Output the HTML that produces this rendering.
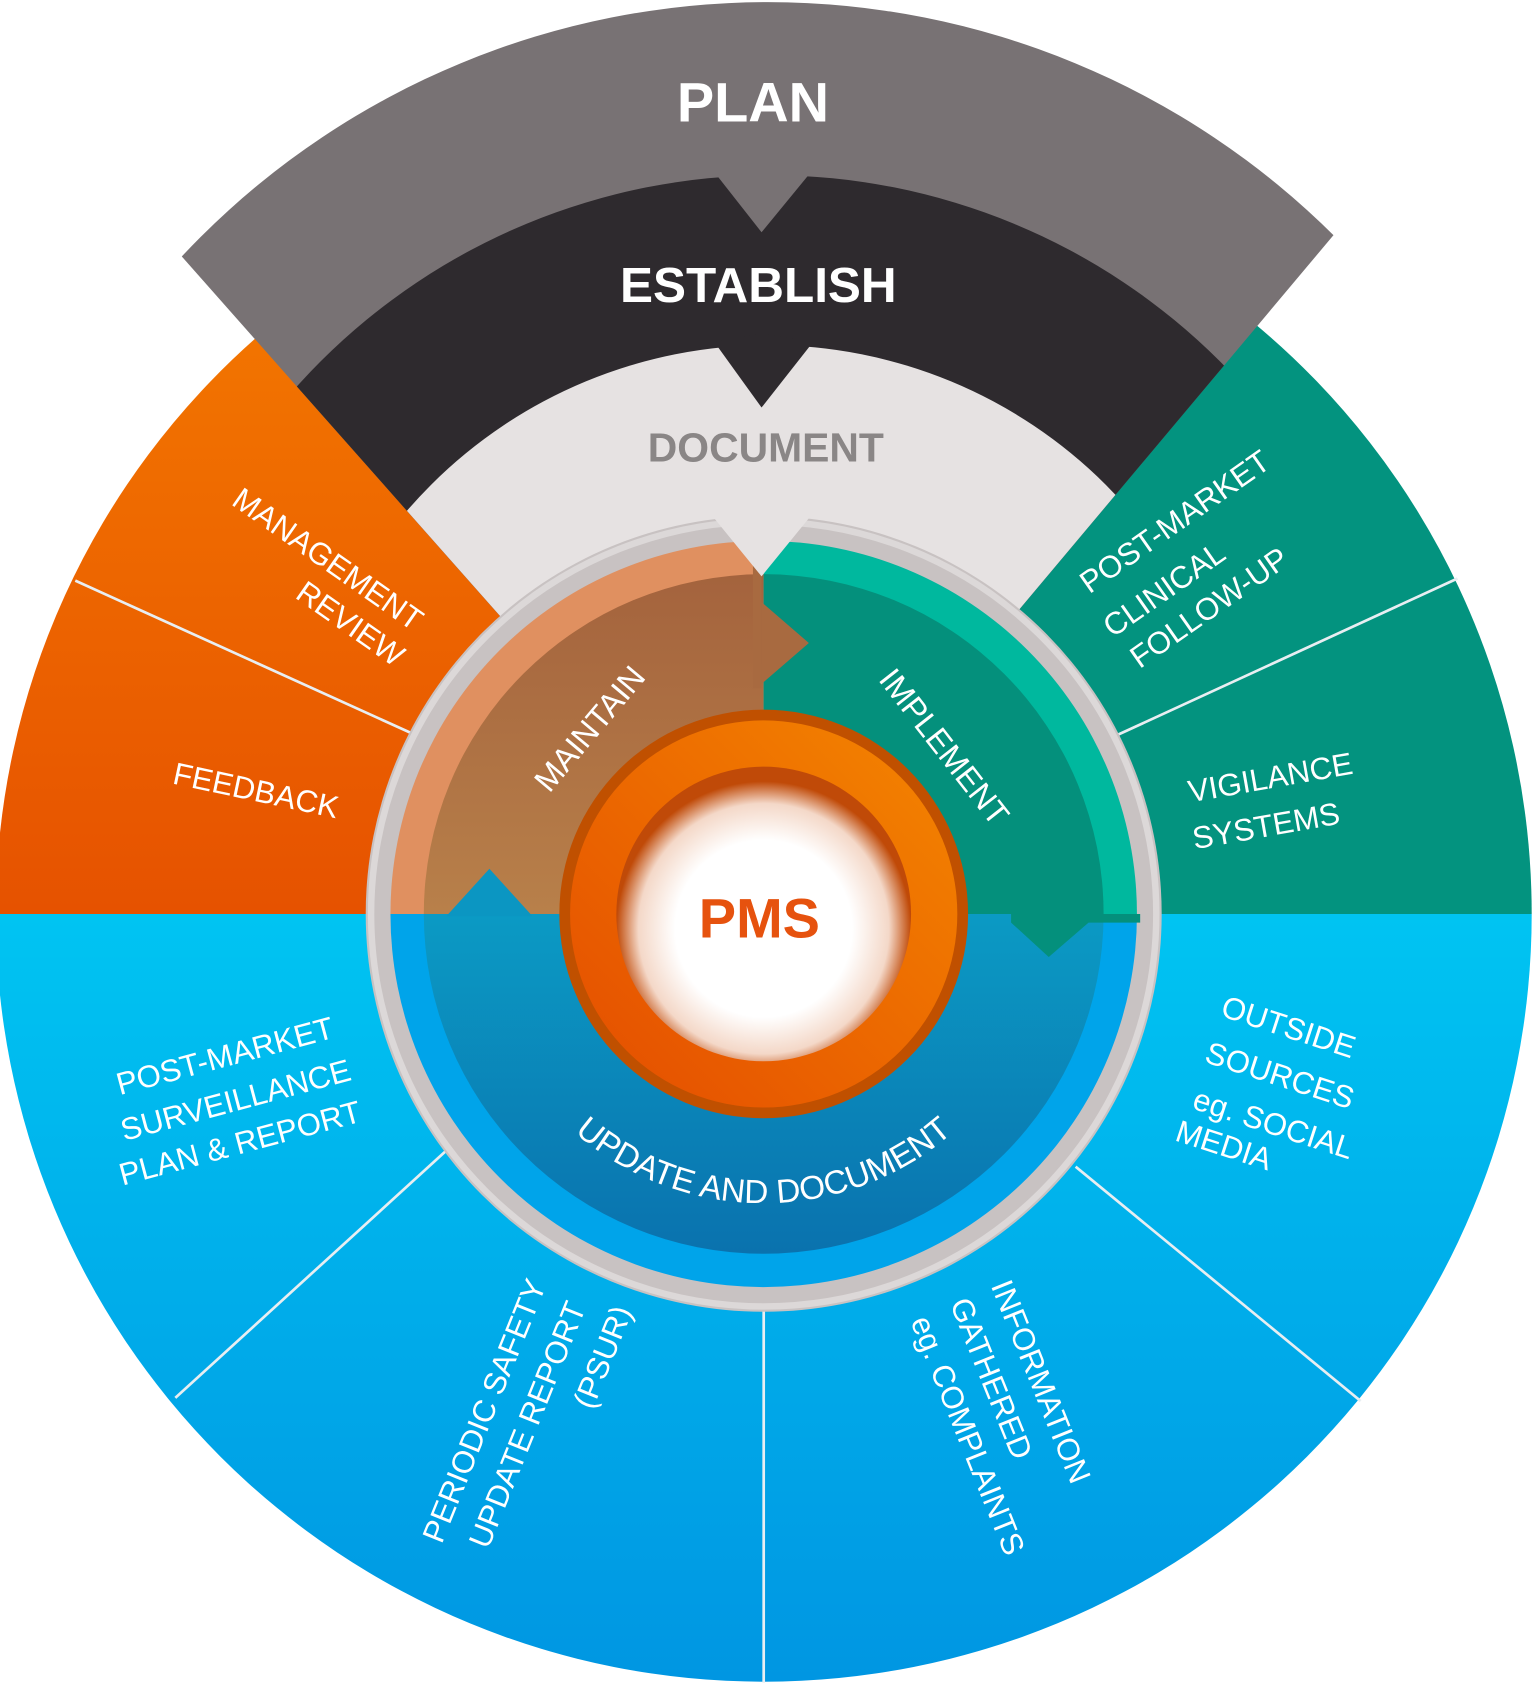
<!DOCTYPE html>
<html><head><meta charset="utf-8"><style>
html,body{margin:0;padding:0;background:#fff;}
svg{display:block;}
text{font-family:"Liberation Sans",sans-serif;}
</style></head><body>
<svg id="chart" width="1536" height="1686" viewBox="0 0 1428 1568" preserveAspectRatio="none" xmlns="http://www.w3.org/2000/svg">
<defs>
<linearGradient id="gBlue" x1="0" y1="0" x2="0" y2="1"><stop offset="0" stop-color="#00c4f2"/><stop offset="1" stop-color="#0096e2"/></linearGradient>
<linearGradient id="gOrange" x1="0" y1="0" x2="0" y2="1"><stop offset="0" stop-color="#f27400"/><stop offset="1" stop-color="#e65200"/></linearGradient>
<linearGradient id="gBrown" x1="0" y1="0" x2="0" y2="1"><stop offset="0" stop-color="#a4633d"/><stop offset="1" stop-color="#b8804a"/></linearGradient>
<linearGradient id="gInnerBlue" x1="0" y1="0" x2="0" y2="1"><stop offset="0" stop-color="#0b9ac4"/><stop offset="1" stop-color="#0a72ae"/></linearGradient>
<linearGradient id="gRing" x1="1" y1="0" x2="0" y2="1"><stop offset="0" stop-color="#f48600"/><stop offset="1" stop-color="#e44c00"/></linearGradient>
<radialGradient id="gWhite" cx="0.5" cy="0.55" r="0.5"><stop offset="0.6" stop-color="#ffffff"/><stop offset="0.85" stop-color="#f4d8c8"/><stop offset="1" stop-color="#c04a08"/></radialGradient>
<clipPath id="planClip"><path id="planClipPath" d=""/></clipPath>
<path id="arcText" d="M 520 1040 A 268 268 0 0 0 900 1040"/>
</defs>
<g id="layer"></g>
</svg>
<script>
const CX=710, CY=850;
const svg=document.getElementById('layer');
const NS='http://www.w3.org/2000/svg';
function pt(r,a){const t=a*Math.PI/180;return [CX+r*Math.cos(t),CY-r*Math.sin(t)];}
function sector(r0,r1,a0,a1){
  const p1=pt(r1,a0),p2=pt(r1,a1);const large=(a1-a0)>180?1:0;
  let d=`M${p1[0]} ${p1[1]} A${r1} ${r1} 0 ${large} 0 ${p2[0]} ${p2[1]}`;
  if(r0>0){const p3=pt(r0,a1),p4=pt(r0,a0);d+=` L${p3[0]} ${p3[1]} A${r0} ${r0} 0 ${large} 1 ${p4[0]} ${p4[1]} Z`;}
  else d+=` L${CX} ${CY} Z`;
  return d;}
function circle3(a,b,c){
  const ax=a[0],ay=a[1],bx=b[0],by=b[1],cx=c[0],cy=c[1];
  const d=2*(ax*(by-cy)+bx*(cy-ay)+cx*(ay-by));
  const ux=((ax*ax+ay*ay)*(by-cy)+(bx*bx+by*by)*(cy-ay)+(cx*cx+cy*cy)*(ay-by))/d;
  const uy=((ax*ax+ay*ay)*(cx-bx)+(bx*bx+by*by)*(ax-cx)+(cx*cx+cy*cy)*(bx-ax))/d;
  return {cx:ux,cy:uy,r:Math.hypot(ax-ux,ay-uy)};}
function add(tag,attrs,name,parent){const e=document.createElementNS(NS,tag);for(const k in attrs)e.setAttribute(k,attrs[k]);
  
  
  (parent||svg).appendChild(e);return e;}

document.getElementById('planClipPath').setAttribute('d',sector(0,1000,50,131.5));

add('path',{d:sector(0,714,180,360),fill:'url(#gBlue)'},'monitor-sector');
add('path',{d:sector(0,714,131,180),fill:'url(#gOrange)'},'act-sector');
add('path',{d:sector(0,714,0,50.5),fill:'#03937f'},'implement-outer-sector');
const planG=add('g',{'clip-path':'url(#planClip)'},'plan-group');
const c1=circle3([163,245],[710,2],[1236,215]);
add('circle',{cx:c1.cx,cy:c1.cy,r:c1.r,fill:'#787274'},'plan-band',planG);
const c2=circle3([280,355],[708,163],[1128,330]);
add('circle',{cx:c2.cx,cy:c2.cy,r:c2.r,fill:'#2e2a2e'},'establish-band',planG);
add('polygon',{points:'664,160 708,216 754,160 708,150',fill:'#787274'},'plan-notch',planG);
const c3=circle3([390,462],[708,321],[1020,443]);
add('circle',{cx:c3.cx,cy:c3.cy,r:c3.r,fill:'#e6e2e2'},'document-band',planG);
add('polygon',{points:'664,318 708,379 756,318 708,310',fill:'#2e2a2e'},'establish-notch',planG);

const dividers=[[70,540,385,683],[1040,683,1355,538],[415,1070,163,1300],[710,1218,710,1565],[1000,1085,1265,1303]];
dividers.forEach((l,i)=>{add('line',{x1:l[0],y1:l[1],x2:l[2],y2:l[3],stroke:'#e8eef2','stroke-width':2.5},'divider-line-'+i);});

add('circle',{cx:CX,cy:CY,r:370,fill:'#c8c2c2'},'inner-gray-ring');
add('circle',{cx:CX,cy:CY,r:365,fill:'none',stroke:'#dcd8d8','stroke-width':6},'inner-ring-highlight');
add('path',{d:sector(0,347,180,360),fill:'#00a4ea'},'update-ring');
add('path',{d:sector(0,316,180,360),fill:'url(#gInnerBlue)'},'update-segment');
add('path',{d:sector(0,347,90,180),fill:'#e09060'},'maintain-ring');
add('path',{d:sector(0,316,90,180),fill:'url(#gBrown)'},'maintain-segment');
add('path',{d:sector(0,347,0,90),fill:'#00b89e'},'implement-ring');
add('path',{d:sector(0,316,0,90),fill:'#04907c'},'implement-segment');
add('polygon',{points:'708,560 752,598 708,636',fill:'#a86a40'},'maintain-arrow');
add('polygon',{points:'700,500 708,500 708,640 700,640',fill:'#a86a40'},'maintain-arrow-stem');
add('polygon',{points:'940,850 1060,850 1060,858 1012,858 975,890 940,858',fill:'#04907c'},'implement-arrow');
add('polygon',{points:'415,852 455,808 495,852',fill:'#0b96c2'},'update-arrow');
add('polygon',{points:'664,482 708,536 752,482 708,470',fill:'#e6e2e2'},'document-notch');

add('circle',{cx:CX,cy:CY,r:190,fill:'#c05000'},'pms-ring-edge');
add('circle',{cx:CX,cy:CY,r:180,fill:'url(#gRing)'},'pms-ring');
add('circle',{cx:CX,cy:CY,r:137,fill:'url(#gWhite)'},'pms-center');

const labels=[
 ['PLAN',700,113,0,52,'#ffffff','bold','plan-label'],
 ['ESTABLISH',705,281,0,46,'#ffffff','bold','establish-label'],
 ['DOCUMENT',712,429,0,38,'#8a8686','bold','document-label'],
 ['PMS',706,872,0,52,'#e6520e','bold','pms-label'],
 ['MANAGEMENT',305,530,35,29,'#fff','normal','management-label'],
 ['REVIEW',326,590,35,29,'#fff','normal','review-label'],
 ['FEEDBACK',238,745,12,29,'#fff','normal','feedback-label'],
 ['POST-MARKET',1092,495,-35,29,'#fff','normal','pmcf-line1'],
 ['CLINICAL',1082,558,-35,29,'#fff','normal','pmcf-line2'],
 ['FOLLOW-UP',1124,575,-35,29,'#fff','normal','pmcf-line3'],
 ['VIGILANCE',1181,733,-10,29,'#fff','normal','vigilance-label'],
 ['SYSTEMS',1177,778,-10,29,'#fff','normal','systems-label'],
 ['MAINTAIN',548,688,-50,30,'#fff','normal','maintain-label'],
 ['IMPLEMENT',878,705,52,30,'#fff','normal','implement-label'],
 ['POST-MARKET',209,992,-15,29,'#fff','normal','pmsr-line1'],
 ['SURVEILLANCE',219,1033,-15,29,'#fff','normal','pmsr-line2'],
 ['PLAN & REPORT',223,1073,-15,29,'#fff','normal','pmsr-line3'],
 ['OUTSIDE',1198,965,18,29,'#fff','normal','outside-line1'],
 ['SOURCES',1190,1010,18,29,'#fff','normal','outside-line2'],
 ['eg. SOCIAL',1184,1055,18,29,'#fff','normal','outside-line3'],
 ['MEDIA',1138,1075,18,29,'#fff','normal','outside-line4'],
 ['PERIODIC SAFETY',450,1322,-68,29,'#fff','normal','psur-line1'],
 ['UPDATE REPORT',490,1335,-68,29,'#fff','normal','psur-line2'],
 ['(PSUR)',560,1272,-68,29,'#fff','normal','psur-line3'],
 ['INFORMATION',968,1295,68,29,'#fff','normal','info-line1'],
 ['GATHERED',922,1292,68,29,'#fff','normal','info-line2'],
 ['eg. COMPLAINTS',900,1345,68,29,'#fff','normal','info-line3']
];
labels.forEach(l=>{
  const t=add('text',{x:l[1],y:l[2],'text-anchor':'middle','font-size':l[4],fill:l[5],'font-weight':l[6],transform:`rotate(${l[3]} ${l[1]} ${l[2]-l[4]*0.35})`},l[7]);
  t.textContent=l[0];
});
const at=add('text',{'font-size':31,fill:'#fff','text-anchor':'middle'},'update-and-document-label');
const tp=add('textPath',{href:'#arcText',startOffset:'50%'},'update-and-document-path',at);
tp.textContent='UPDATE  AND DOCUMENT';
</script>
</body></html>
